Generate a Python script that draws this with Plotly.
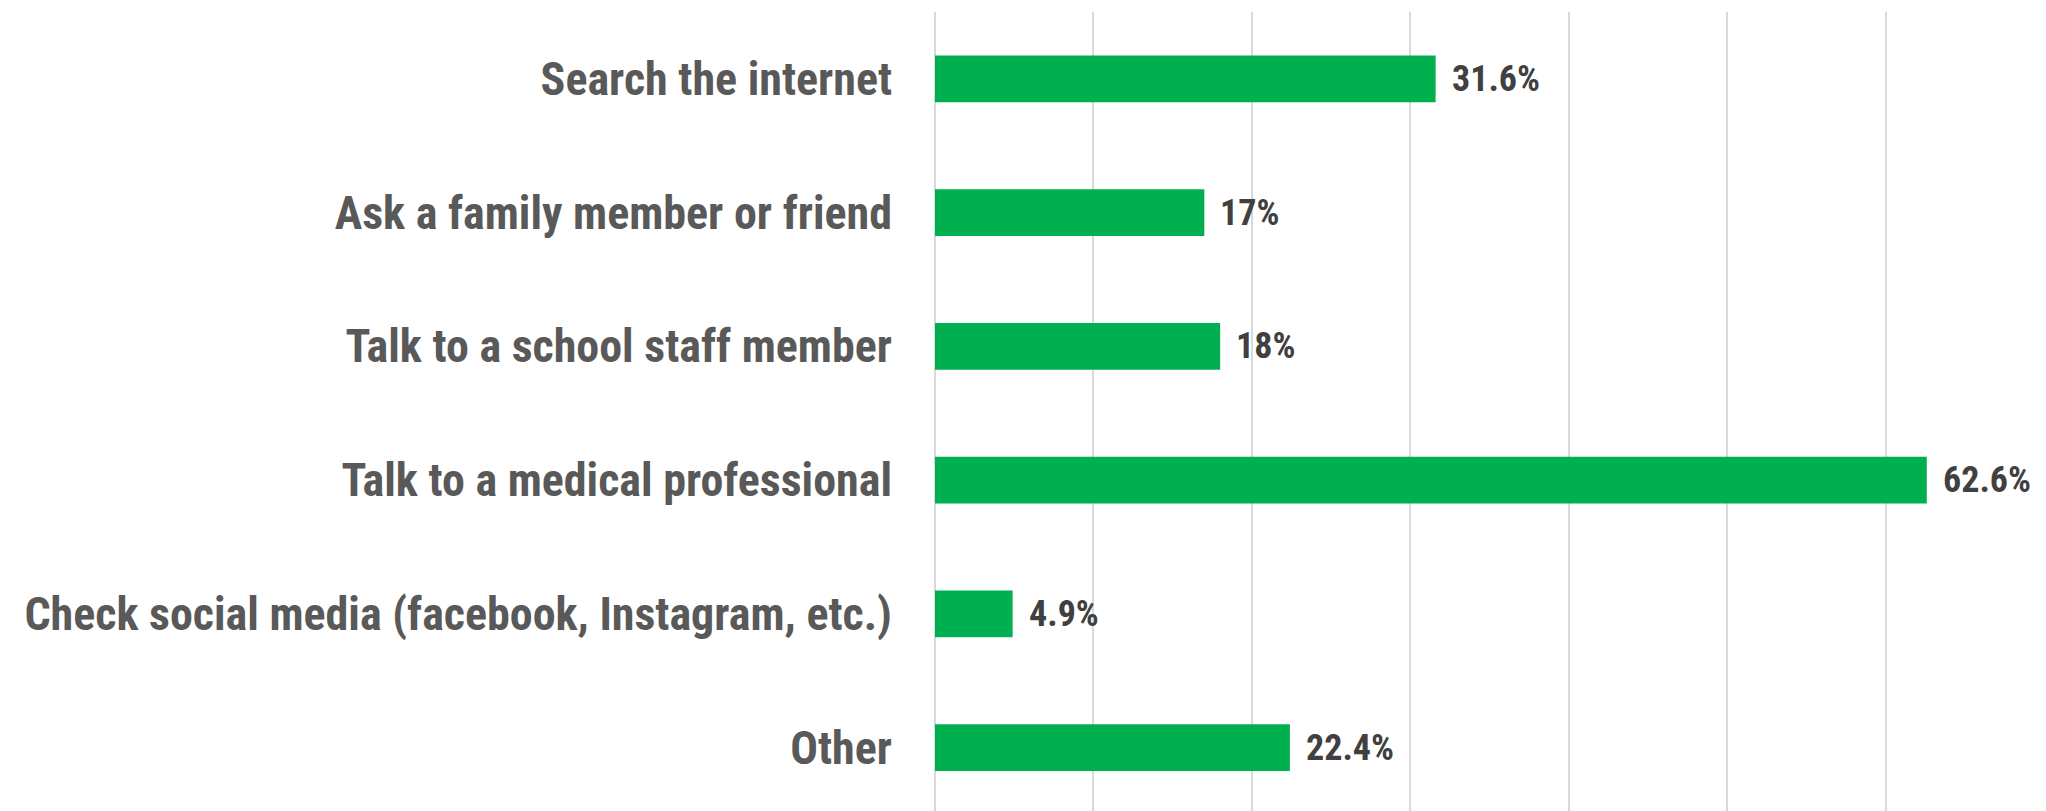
import plotly.graph_objects as go

# Survey responses: where people go for information
categories = [
    "Search the internet",
    "Ask a family member or friend",
    "Talk to a school staff member",
    "Talk to a medical professional",
    "Check social media (facebook, Instagram, etc.)",
    "Other",
]
percentages = [31.6, 17, 18, 62.6, 4.9, 22.4]
value_labels = [f"{v:g}%" for v in percentages]

BAR_GREEN = "#00B050"
LABEL_FONT = "Liberation Sans Narrow, Arial Narrow, Roboto Condensed, DejaVu Sans Condensed, sans-serif"

fig = go.Figure(
    go.Bar(
        x=percentages,
        y=categories,
        orientation="h",
        width=0.35,
        marker=dict(color=BAR_GREEN, line=dict(width=0)),
        hoverinfo="skip",
    )
)

# Value labels just to the right of each bar end
for cat, val, txt in zip(categories, percentages, value_labels):
    fig.add_annotation(
        x=val, y=cat, text=f"<b>{txt}</b>", showarrow=False,
        xanchor="left", yanchor="middle", xshift=14,
        font=dict(family=LABEL_FONT, size=36, color="#404040"),
    )

fig.update_layout(
    width=2046, height=811,
    margin=dict(l=935, r=2, t=12, b=0, pad=0),
    paper_bgcolor="white", plot_bgcolor="white",
    showlegend=False,
    bargap=0.65,
)
fig.update_xaxes(
    range=[0, 70], dtick=10, tick0=0,
    showticklabels=False, showgrid=True, gridcolor="#D9D9D9", gridwidth=2,
    zeroline=True, zerolinecolor="#D9D9D9", zerolinewidth=2, showline=False,
)
fig.update_yaxes(
    type="category", categoryorder="array", categoryarray=categories,
    range=[5.474, -0.5],
    showgrid=False, zeroline=False, showline=False, ticks="",
    ticklabelstandoff=42,
    tickfont=dict(family=LABEL_FONT, size=46, color="#595959"),
    tickprefix="<b>", ticksuffix="</b>",
)

fig.write_html("out.html")
